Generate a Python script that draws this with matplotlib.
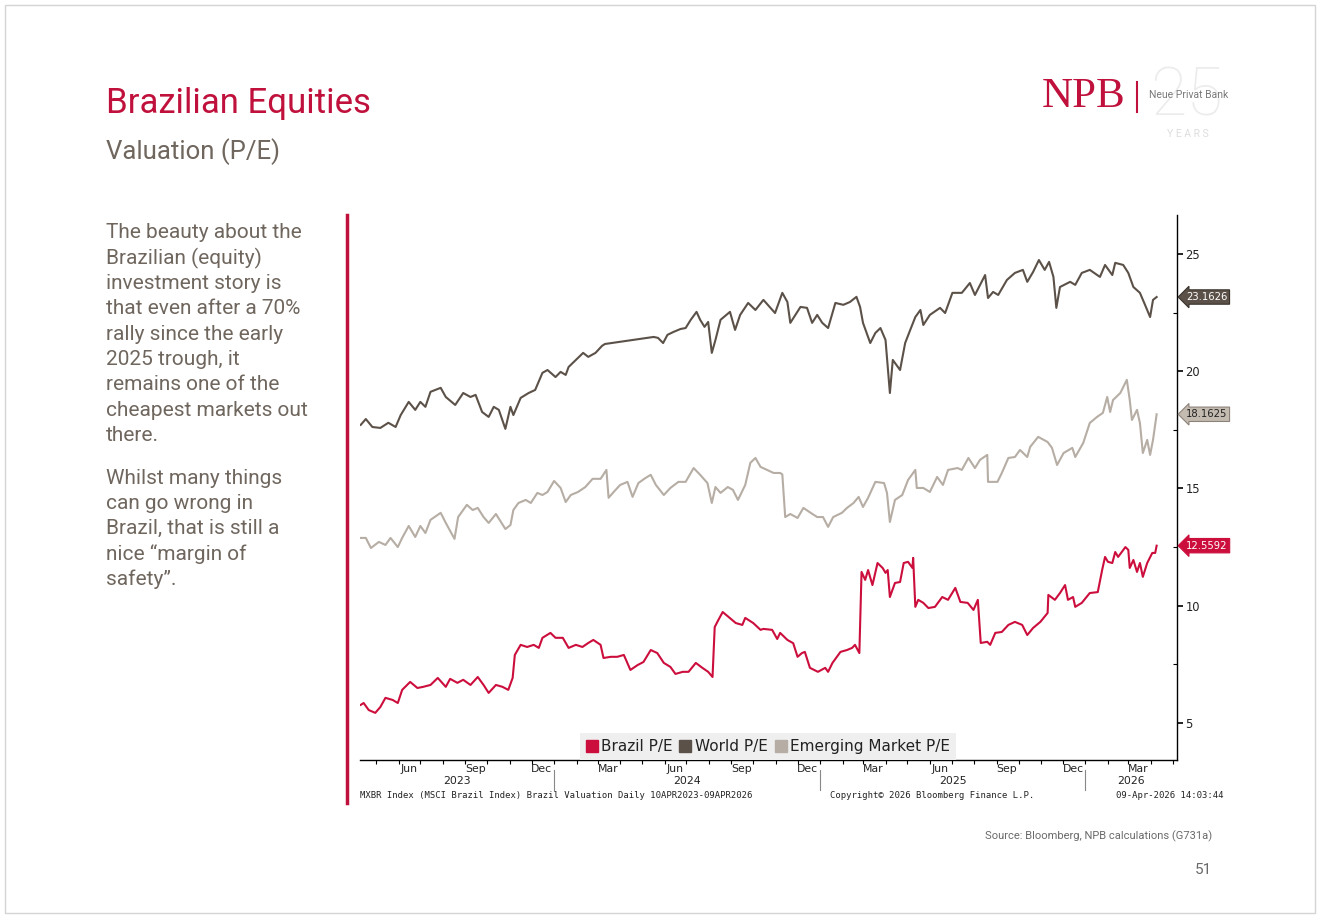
import matplotlib
matplotlib.use('Agg')
import matplotlib.pyplot as plt
import matplotlib.dates as mdates
import pandas as pd
from matplotlib.patches import Rectangle
from matplotlib.lines import Line2D
import matplotlib.transforms as mtransforms

# ---------------- data ----------------
world_dates = ["2023-04-10","2023-04-17","2023-04-26","2023-05-07","2023-05-18","2023-05-28","2023-06-04","2023-06-15","2023-06-24","2023-07-01",
               "2023-07-08","2023-07-15","2023-07-29","2023-08-05","2023-08-18","2023-08-29","2023-09-08","2023-09-15","2023-09-24","2023-10-03",
               "2023-10-10","2023-10-17","2023-10-26","2023-11-02","2023-11-06","2023-11-16","2023-11-27","2023-12-06","2023-12-16","2023-12-23",
               "2024-01-03","2024-01-10","2024-01-17","2024-01-21","2024-01-31","2024-02-10","2024-02-17","2024-02-27","2024-03-07","2024-03-11",
               "2024-05-17","2024-05-23","2024-05-30","2024-06-05","2024-06-13","2024-06-23","2024-06-30","2024-07-07","2024-07-15","2024-07-20",
               "2024-07-26","2024-07-31","2024-08-05","2024-08-10","2024-08-17","2024-08-30","2024-09-06","2024-09-13","2024-09-24","2024-10-04",
               "2024-10-15","2024-10-31","2024-11-10","2024-11-17","2024-11-21","2024-12-05","2024-12-14","2024-12-21","2024-12-28","2025-01-04",
               "2025-01-12","2025-01-22","2025-02-02","2025-02-11","2025-02-20","2025-02-25","2025-03-01","2025-03-11","2025-03-18","2025-03-25",
               "2025-04-01","2025-04-07","2025-04-11","2025-04-21","2025-04-28","2025-05-05","2025-05-12","2025-05-19","2025-05-23","2025-06-01",
               "2025-06-15","2025-06-22","2025-07-02","2025-07-15","2025-07-26","2025-08-02","2025-08-16","2025-08-20","2025-08-27","2025-09-03",
               "2025-09-15","2025-09-26","2025-10-07","2025-10-13","2025-10-21","2025-10-29","2025-11-06","2025-11-12","2025-11-18","2025-11-22",
               "2025-11-27","2025-12-11","2025-12-18","2025-12-27","2026-01-07","2026-01-21","2026-01-28","2026-02-07","2026-02-11","2026-02-22",
               "2026-03-01","2026-03-08","2026-03-17","2026-03-24","2026-03-31","2026-04-04","2026-04-09"]
world_pe = [17.71,17.96,17.62,17.58,17.80,17.62,18.13,18.69,18.35,18.69,
            18.48,19.12,19.29,18.90,18.56,19.07,18.90,18.99,18.26,18.05,
            18.48,18.35,17.54,18.48,18.13,18.86,19.07,19.20,19.93,20.05,
            19.75,19.97,19.84,20.18,20.48,20.78,20.61,20.78,21.08,21.16,
            21.46,21.42,21.20,21.55,21.67,21.80,21.84,22.19,22.53,22.19,
            21.89,22.10,20.78,21.33,22.19,22.53,21.76,22.40,22.91,22.61,
            23.04,22.48,23.34,22.95,22.06,22.74,22.70,22.06,22.40,22.06,
            21.84,22.91,22.83,22.95,23.17,22.74,22.06,21.20,21.63,21.84,
            21.33,19.07,20.48,20.05,21.20,21.76,22.31,22.61,21.97,22.40,
            22.70,22.48,23.34,23.34,23.76,23.25,24.10,23.12,23.38,23.25,
            23.89,24.19,24.32,23.81,24.23,24.74,24.32,24.66,24.02,22.70,
            23.59,23.81,23.68,24.19,24.32,24.02,24.53,24.10,24.62,24.53,
            24.19,23.59,23.34,22.83,22.31,23.04,23.1626]

em_dates = ["2023-04-10","2023-04-17","2023-04-24","2023-05-05","2023-05-14","2023-05-21","2023-05-31","2023-06-06","2023-06-15","2023-06-24",
            "2023-07-01","2023-07-08","2023-07-15","2023-07-29","2023-08-05","2023-08-17","2023-08-22","2023-09-03","2023-09-11","2023-09-18",
            "2023-09-26","2023-10-03","2023-10-13","2023-10-26","2023-11-02","2023-11-06","2023-11-13","2023-11-23","2023-11-30","2023-12-09",
            "2023-12-16","2023-12-23","2024-01-01","2024-01-10","2024-01-17","2024-01-24","2024-02-03","2024-02-13","2024-02-23","2024-03-05",
            "2024-03-13","2024-03-16","2024-03-23","2024-04-01","2024-04-11","2024-04-18","2024-04-26","2024-05-06","2024-05-13","2024-05-20",
            "2024-05-31","2024-06-09","2024-06-20","2024-06-30","2024-07-11","2024-07-20","2024-07-30","2024-08-05","2024-08-10","2024-08-17",
            "2024-08-27","2024-09-03","2024-09-10","2024-09-20","2024-09-27","2024-10-04","2024-10-11","2024-10-20","2024-10-29","2024-11-07",
            "2024-11-10","2024-11-14","2024-11-21","2024-12-01","2024-12-09","2024-12-19","2024-12-28","2025-01-05","2025-01-12","2025-01-19",
            "2025-01-31","2025-02-07","2025-02-16","2025-02-23","2025-03-01","2025-03-08","2025-03-18","2025-03-30","2025-04-03","2025-04-07",
            "2025-04-14","2025-04-24","2025-05-02","2025-05-12","2025-05-14","2025-05-23","2025-06-01","2025-06-11","2025-06-19","2025-06-26",
            "2025-07-09","2025-07-15","2025-07-24","2025-08-02","2025-08-09","2025-08-19","2025-08-20","2025-09-02","2025-09-08","2025-09-17",
            "2025-09-26","2025-10-03","2025-10-13","2025-10-17","2025-10-28","2025-11-10","2025-11-16","2025-11-23","2025-12-02","2025-12-14",
            "2025-12-18","2025-12-29","2026-01-07","2026-01-17","2026-01-25","2026-01-31","2026-02-04","2026-02-08","2026-02-18","2026-02-27",
            "2026-03-03","2026-03-06","2026-03-13","2026-03-17","2026-03-21","2026-03-27","2026-03-31","2026-04-04","2026-04-09"]
em_pe = [12.89,12.89,12.46,12.72,12.59,12.89,12.50,12.89,13.40,12.93,
         13.40,13.10,13.66,13.96,13.53,12.85,13.78,14.30,14.08,14.17,
         13.78,13.53,13.91,13.27,13.44,14.08,14.38,14.51,14.38,14.81,
         14.72,14.85,15.32,15.02,14.42,14.72,14.85,15.06,15.41,15.41,
         15.79,14.60,14.85,15.15,15.28,14.64,15.23,15.45,15.58,15.15,
         14.72,15.02,15.28,15.28,15.87,15.58,15.23,14.38,15.06,14.81,
         15.06,14.94,14.51,15.15,16.09,16.30,15.92,15.79,15.66,15.66,
         15.60,13.78,13.91,13.74,14.17,13.96,13.78,13.78,13.36,13.78,
         13.96,14.17,14.38,14.64,14.21,14.60,15.28,15.23,14.81,13.57,
         14.51,14.72,15.36,15.79,15.02,15.02,14.85,15.49,15.15,15.79,
         15.87,15.79,16.30,15.87,16.22,16.43,15.28,15.28,15.66,16.30,
         16.34,16.64,16.34,16.77,17.20,16.98,16.73,16.00,16.51,16.73,
         16.34,16.94,17.79,18.05,18.22,18.90,18.26,18.77,19.07,19.63,
         18.77,17.92,18.35,17.79,16.51,17.07,16.43,17.07,18.1625]

brazil_dates = ["2023-04-10","2023-04-14","2023-04-21","2023-04-30","2023-05-07","2023-05-14","2023-05-24","2023-05-31","2023-06-06","2023-06-17",
                "2023-06-27","2023-07-05","2023-07-15","2023-07-25","2023-08-05","2023-08-11","2023-08-21","2023-08-29","2023-09-08","2023-09-18",
                "2023-09-26","2023-10-03","2023-10-13","2023-10-22","2023-10-30","2023-11-05","2023-11-08","2023-11-16","2023-11-25","2023-12-04",
                "2023-12-11","2023-12-16","2023-12-27","2024-01-03","2024-01-13","2024-01-21","2024-01-31","2024-02-09","2024-02-17","2024-02-24",
                "2024-03-05","2024-03-09","2024-03-19","2024-03-28","2024-04-06","2024-04-15","2024-04-25","2024-05-03","2024-05-13","2024-05-22",
                "2024-05-31","2024-06-09","2024-06-16","2024-06-26","2024-07-04","2024-07-14","2024-07-23","2024-07-31","2024-08-06","2024-08-09",
                "2024-08-14","2024-08-20","2024-08-28","2024-09-07","2024-09-16","2024-09-20","2024-10-01","2024-10-11","2024-10-15","2024-10-27",
                "2024-11-03","2024-11-07","2024-11-17","2024-11-25","2024-12-01","2024-12-07","2024-12-11","2024-12-18","2024-12-29","2025-01-08",
                "2025-01-12","2025-01-18","2025-01-29","2025-02-07","2025-02-14","2025-02-18","2025-02-24","2025-02-27","2025-03-04","2025-03-08",
                "2025-03-14","2025-03-21","2025-03-28","2025-04-01","2025-04-04","2025-04-07","2025-04-14","2025-04-21","2025-04-26","2025-05-02",
                "2025-05-08","2025-05-09","2025-05-12","2025-05-16","2025-05-23","2025-05-30","2025-06-08","2025-06-18","2025-06-26","2025-07-06",
                "2025-07-13","2025-07-23","2025-07-31","2025-08-06","2025-08-10","2025-08-19","2025-08-23","2025-08-30","2025-09-08","2025-09-17",
                "2025-09-26","2025-10-06","2025-10-13","2025-10-21","2025-10-31","2025-11-10","2025-11-11","2025-11-20","2025-11-27","2025-12-04",
                "2025-12-08","2025-12-15","2025-12-18","2025-12-27","2026-01-07","2026-01-18","2026-01-24","2026-01-28","2026-02-01","2026-02-07",
                "2026-02-11","2026-02-15","2026-02-25","2026-03-01","2026-03-03","2026-03-08","2026-03-13","2026-03-17","2026-03-21","2026-03-27",
                "2026-04-03","2026-04-07","2026-04-09"]
brazil_pe = [5.77,5.85,5.55,5.43,5.68,6.07,5.98,5.85,6.41,6.75,
             6.49,6.54,6.62,6.92,6.54,6.88,6.71,6.84,6.62,6.96,
             6.62,6.28,6.62,6.54,6.41,6.92,7.90,8.33,8.24,8.33,
             8.20,8.63,8.84,8.63,8.63,8.20,8.33,8.24,8.41,8.54,
             8.33,7.77,7.82,7.82,7.90,7.26,7.47,7.60,8.11,7.98,
             7.56,7.39,7.09,7.18,7.18,7.56,7.35,7.18,6.96,9.09,
             9.39,9.73,9.52,9.26,9.18,9.48,9.26,8.97,9.01,8.97,
             8.58,8.84,8.54,8.40,7.82,7.98,8.03,7.35,7.18,7.35,
             7.18,7.56,8.03,8.11,8.20,8.33,7.98,11.44,11.10,11.52,
             10.88,11.82,11.61,11.40,11.52,10.37,10.97,11.01,11.82,11.87,
             11.61,12.04,9.95,10.25,10.12,9.90,9.95,10.37,10.25,10.76,
             10.16,10.12,9.82,10.25,8.41,8.46,8.33,8.84,8.88,9.18,
             9.31,9.18,8.75,9.05,9.31,9.69,10.46,10.25,10.54,10.88,
             10.25,10.37,9.95,10.12,10.54,10.58,11.52,12.08,11.87,11.82,
             12.29,12.08,12.50,12.38,11.61,11.95,11.44,11.82,11.23,11.82,
             12.25,12.25,12.5592]

series_names = ["Brazil P/E", "World P/E", "Emerging Market P/E"]
month_labels_months = [3, 6, 9, 12]
year_labels = ["2023", "2024", "2025", "2026"]
y_ticks = [5, 10, 15, 20, 25]

body_para1 = ["The beauty about the", "Brazilian (equity)", "investment story is",
              "that even after a 70%", "rally since the early", "2025 trough, it",
              "remains one of the", "cheapest markets out", "there."]
body_para2 = ["Whilst many things", "can go wrong in", "Brazil, that is still a",
              "nice \u201cmargin of", "safety\u201d."]

# ---------------- styles ----------------
CRIMSON = '#c0103c'
RED = '#cc0e3d'
WORLD_C = '#5b5148'
EM_C = '#b6ada4'
TEXT_GRAY = '#6f665e'

W, H = 1321, 919
fig = plt.figure(figsize=(W / 100, H / 100), dpi=100)
fig.patch.set_facecolor('white')

def fx(x):
    return x / W

def fy(y):
    return 1 - y / H

# page frame
fig.add_artist(Rectangle((fx(5), fy(913)), fx(1310), (908) / H, transform=fig.transFigure,
                         fill=False, ec='#d4d4d4', lw=1))

# titles
fig.text(fx(106), fy(103), "Brazilian Equities", family='Roboto', fontsize=25,
         color=CRIMSON, ha='left', va='center')
fig.text(fx(106), fy(152), "Valuation (P/E)", family='Roboto', fontsize=18.5,
         color=TEXT_GRAY, ha='left', va='center')

# body text
y0 = 233
for i, line in enumerate(body_para1):
    fig.text(fx(106), fy(y0 + i * 25.3), line, family='Roboto', fontsize=15,
             color=TEXT_GRAY, ha='left', va='center')
y1 = 478
for i, line in enumerate(body_para2):
    fig.text(fx(106), fy(y1 + i * 25.3), line, family='Roboto', fontsize=15,
             color=TEXT_GRAY, ha='left', va='center')

# red vertical rule
fig.add_artist(Line2D([fx(347), fx(347)], [fy(215), fy(803)], color=CRIMSON, lw=2.5,
                      transform=fig.transFigure))

# logo
fig.text(fx(1187), fy(97), "25", family='Roboto', fontsize=48, color='#ececec',
         ha='center', va='center', fontweight='light')
fig.text(fx(1042), fy(97), "NPB", family='Liberation Serif', fontsize=31, color=CRIMSON,
         ha='left', va='center')
fig.add_artist(Line2D([fx(1137), fx(1137)], [fy(82), fy(112)], color=CRIMSON, lw=1.5,
                      transform=fig.transFigure))
fig.text(fx(1149), fy(95), "Neue Privat Bank", family='Roboto', fontsize=7.5, color='#7a7a7a',
         ha='left', va='center')
fig.text(fx(1188), fy(134), "Y E A R S", family='Roboto', fontsize=7.5, color='#dddddd',
         ha='center', va='center')

# footer
fig.text(fx(1212), fy(836), "Source: Bloomberg, NPB calculations (G731a)", family='Roboto',
         fontsize=8, color='#6a6a6a', ha='right', va='center')
fig.text(fx(1212), fy(870), "51", family='Roboto', fontsize=11, color='#6a6a6a',
         ha='right', va='center')

# ---------------- chart ----------------
ax = fig.add_axes([fx(360), fy(760), (1177 - 360) / W, (760 - 215) / H])
ax.set_facecolor('white')

wd = pd.to_datetime(world_dates)
ed = pd.to_datetime(em_dates)
bd = pd.to_datetime(brazil_dates)
ax.plot(wd, world_pe, color=WORLD_C, lw=1.5, zorder=3)
ax.plot(ed, em_pe, color=EM_C, lw=1.5, zorder=3)
ax.plot(bd, brazil_pe, color=RED, lw=1.5, zorder=4)

ax.set_xlim(pd.Timestamp('2023-04-09'), pd.Timestamp('2026-05-07'))
ax.set_ylim(3.42, 26.66)

for s in ['top', 'left']:
    ax.spines[s].set_visible(False)
for s in ['right', 'bottom']:
    ax.spines[s].set_linewidth(1.0)
    ax.spines[s].set_color('black')

ax.yaxis.set_ticks_position('right')
ax.set_yticks(y_ticks)
ax.set_yticks([v + 2.5 for v in y_ticks[:-1]], minor=True)
ax.tick_params(axis='y', which='major', direction='out', length=4, width=1.2,
               labelsize=8.3, pad=2, labelcolor='#222222')
ax.tick_params(axis='y', which='minor', direction='in', length=3, width=0.8)
for lab in ax.get_yticklabels():
    lab.set_family('DejaVu Sans')

ax.xaxis.set_major_locator(mdates.MonthLocator(bymonth=month_labels_months, bymonthday=15))
ax.xaxis.set_major_formatter(mdates.DateFormatter('%b'))
ax.xaxis.set_minor_locator(mdates.MonthLocator())
ax.tick_params(axis='x', which='major', length=0, pad=3, labelsize=7.8, labelcolor='#222222')
ax.tick_params(axis='x', which='minor', direction='out', length=3, width=0.8)

# year labels & separators
xt = ax.get_xaxis_transform()
xmin, xmax = ax.get_xlim()
for yl in year_labels:
    a = max(mdates.date2num(pd.Timestamp(f"{yl}-01-01")), xmin)
    b = min(mdates.date2num(pd.Timestamp(f"{int(yl) + 1}-01-01")), xmax)
    ax.text((a + b) / 2, -0.039, yl, transform=xt, ha='center', va='center',
            fontsize=7.8, color='#222222', clip_on=False)
    if int(yl) > 2023:
        d = mdates.date2num(pd.Timestamp(f"{yl}-01-01"))
        ax.plot([d, d], [-0.018, -0.055], transform=xt, color='#888888', lw=0.8, clip_on=False)

# legend
handles = [Line2D([], [], marker='s', ls='', color=c, markersize=8.5)
           for c in [RED, WORLD_C, EM_C]]
leg = ax.legend(handles, series_names, loc='lower center', bbox_to_anchor=(0.4994, 0.0),
                ncol=3, frameon=True, facecolor='#efefef', edgecolor='none', fancybox=False,
                framealpha=1, fontsize=11, handletextpad=0.25, columnspacing=0.5,
                borderpad=0.4, handlelength=0.7, borderaxespad=0)
for t in leg.get_texts():
    t.set_color('#222222')

# last value tags
bt = mtransforms.blended_transform_factory(ax.transAxes, ax.transData)
tags = [(world_pe[-1], WORLD_C, '#3a332d', 'white'),
        (em_pe[-1], '#c3bab0', '#8c8279', '#222222'),
        (brazil_pe[-1], RED, RED, 'white')]
for val, fc, ec, tc in tags:
    ax.text(1.011, val, f"{val:.4f}", transform=bt, ha='left', va='center', fontsize=7.2,
            color=tc, clip_on=False,
            bbox=dict(boxstyle='larrow,pad=0.22', fc=fc, ec=ec, lw=0.8))

# bloomberg footer line
fig.text(fx(360), fy(796), "MXBR Index (MSCI Brazil Index) Brazil Valuation Daily 10APR2023-09APR2026",
         family='DejaVu Sans Mono', fontsize=6.4, color='#222222', ha='left', va='center')
fig.text(fx(932), fy(796), "Copyright\u00a9 2026 Bloomberg Finance L.P.",
         family='DejaVu Sans Mono', fontsize=6.4, color='#222222', ha='center', va='center')
fig.text(fx(1223), fy(796), "09-Apr-2026 14:03:44",
         family='DejaVu Sans Mono', fontsize=6.4, color='#222222', ha='right', va='center')

fig.savefig('out.png', dpi=100, facecolor='white')
